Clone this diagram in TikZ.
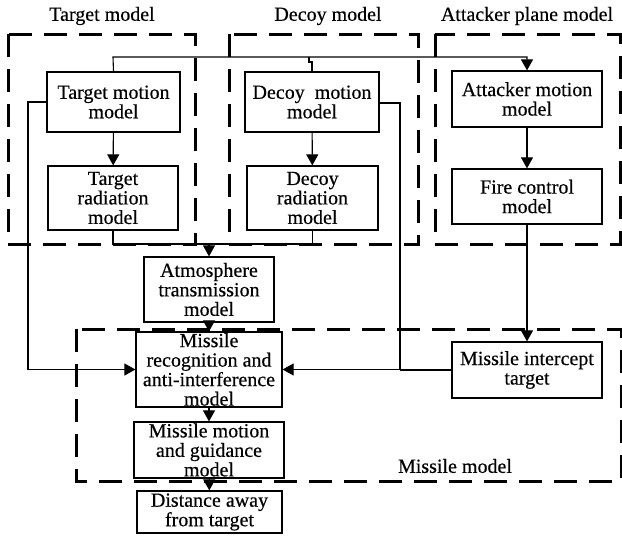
\documentclass[tikz,border=0pt]{standalone}
\usepackage{fontspec}
\setmainfont[FakeBold=0.4]{Liberation Serif}
\usetikzlibrary{arrows.meta}
\begin{document}
\begin{tikzpicture}[x=1pt,y=-1pt,
  box/.style={draw, line width=1.2pt, inner sep=0pt, align=center, font=\fontsize{20}{19.5}\selectfont},
  grp/.style={draw, line width=3pt, dash pattern=on 23pt off 12pt},
  conn/.style={line width=1.1pt},
  arr/.style={conn, -{Triangle[length=11pt,width=12pt]}},
  lbl/.style={font=\fontsize{20}{20}\selectfont, inner sep=0pt}]
\useasboundingbox (0,0) rectangle (622,536);

% group frames
\draw[grp] (8,34) rectangle (195,244);
\draw[grp] (229,34) rectangle (418,244);
\draw[grp] (435,34) rectangle (620,244);
\draw[grp] (76,329) rectangle (621,481);

% group labels
\node[lbl] (lt) at (102,16) {Target model};
\node[lbl] (ld) at (328,16) {Decoy model};
\node[lbl] (la) at (527,16) {Attacker plane model};
\node[lbl] (lm) at (455,466) {Missile model};

% blocks
\node[box, minimum width=133pt, minimum height=60pt] (tm) at (113.5,102) {Target motion\\model};
\node[box, minimum width=130pt, minimum height=64pt] (tr) at (113,198) {Target\\radiation\\model};
\node[box, minimum width=134pt, minimum height=60pt] (dm) at (312,102) {Decoy\ \ motion\\model};
\node[box, minimum width=131pt, minimum height=64pt] (dr) at (312.5,198) {Decoy\\radiation\\model};
\node[box, minimum width=150pt, minimum height=56pt] (am) at (527,99) {Attacker motion\\model};
\node[box, minimum width=150pt, minimum height=55pt] (fc) at (527,196.5) {Fire control\\model};
\node[box, minimum width=130pt, minimum height=65pt] (at) at (209,289.5) {Atmosphere\\transmission\\model};
\node[box, minimum width=146pt, minimum height=75pt] (mr) at (209,369.5) {Missile\\recognition and\\anti-interference\\model};
\node[box, minimum width=150pt, minimum height=56pt] (mm) at (209,450) {Missile motion\\and guidance\\model};
\node[box, minimum width=145pt, minimum height=42pt] (dist) at (209.5,512) {Distance away\\from target};
\node[box, minimum width=150pt, minimum height=56pt] (mi) at (527,370) {Missile intercept\\target};

% connectors
\coordinate (top) at (113,57);
\draw[arr] (tm.north) -- (top) -| (am.north);
\draw[conn] (dm.north) |- (309,62) -- (309,57);
\draw[arr] (tm) -- (tr);
\draw[arr] (dm) -- (dr);
\draw[arr] (am) -- (fc);
\draw[arr] (fc) -- (mi);

\coordinate (lft) at (28,102);
\draw[arr] (tm.west) -- (lft) |- (mr.west);

\coordinate (bus) at (209,244);
\draw[conn] (tr.south) |- (bus) -| (dr.south);
\draw[arr] (bus) -- (at.north);
\draw[arr] (at) -- (mr);
\draw[arr] (mr) -- (mm);
\draw[arr] (mm) -- (dist);

\coordinate (rgt) at (400,103);
\draw[arr] (dm.east |- rgt) -- (rgt) |- (mr.east);
\draw[conn] (mi.west) -- (400,370);
\end{tikzpicture}
\end{document}
